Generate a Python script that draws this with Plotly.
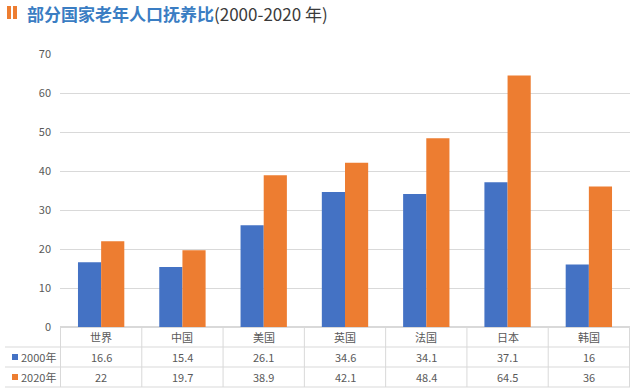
import plotly.graph_objects as go

categories = ["世界", "中国", "美国", "英国", "法国", "日本", "韩国"]
series_names = ["2000年", "2020年"]
values_2000 = [16.6, 15.4, 26.1, 34.6, 34.1, 37.1, 16]
values_2020 = [22, 19.7, 38.9, 42.1, 48.4, 64.5, 36]
y_ticks = [0, 10, 20, 30, 40, 50, 60, 70]

BLUE = "#4472C4"
ORANGE = "#ED7D31"
GRID = "#d9d9d9"
TXT = "#595959"
FONT = "Noto Sans CJK SC"

fig = go.Figure()
fig.add_trace(go.Bar(x=categories, y=values_2000, name=series_names[0], marker=dict(color=BLUE, line=dict(width=0))))
fig.add_trace(go.Bar(x=categories, y=values_2020, name=series_names[1], marker=dict(color=ORANGE, line=dict(width=0))))

W, H = 641, 392
L, R, T, B = 60, 11, 54, 65
ph = H - T - B
pw = W - L - R

def py(pix):
    return (H - B - pix) / ph

def px(pix):
    return (pix - L) / pw

annotations = []
shapes = []
row_centers = [337, 357, 377]
row_lines = [347, 367, 387]

# category row and value rows
for i, c in enumerate(categories):
    annotations.append(dict(x=c, y=py(row_centers[0]), xref="x", yref="paper", text=c, showarrow=False,
                            yanchor="middle", xanchor="center",
                            font=dict(size=11, color=TXT, family=FONT)))
    for r, vals in enumerate([values_2000, values_2020]):
        annotations.append(dict(x=c, y=py(row_centers[r + 1]), xref="x", yref="paper", text=str(vals[i]), showarrow=False,
                                yanchor="middle", xanchor="center",
                                font=dict(size=11, color=TXT, family=FONT)))

# vertical table lines
for i in range(len(categories) + 1):
    shapes.append(dict(type="line", xref="x", yref="paper", x0=i - 0.5, x1=i - 0.5,
                       y0=py(327), y1=py(387), line=dict(color=GRID, width=1)))
# horizontal table lines
for yl in row_lines:
    shapes.append(dict(type="line", xref="paper", yref="paper", x0=px(5), x1=1,
                       y0=py(yl), y1=py(yl), line=dict(color=GRID, width=1)))

# legend keys in table
for r, (name, col) in enumerate(zip(series_names, [BLUE, ORANGE])):
    yc = row_centers[r + 1]
    shapes.append(dict(type="rect", xref="paper", yref="paper", x0=px(12), x1=px(18),
                       y0=py(yc + 3), y1=py(yc - 3), fillcolor=col, line=dict(width=0)))
    annotations.append(dict(x=px(19), y=py(yc), xref="paper", yref="paper", text=name, showarrow=False,
                            xanchor="left", yanchor="middle", font=dict(size=11, color=TXT, family=FONT)))

# title icon
shapes.append(dict(type="rect", xref="paper", yref="paper", x0=px(7), x1=px(11), y0=py(19), y1=py(6),
                   fillcolor=ORANGE, line=dict(width=0)))
shapes.append(dict(type="rect", xref="paper", yref="paper", x0=px(13), x1=px(17), y0=py(19), y1=py(6),
                   fillcolor=ORANGE, line=dict(width=0)))
annotations.append(dict(x=px(25), y=py(13), xref="paper", yref="paper", xanchor="left", yanchor="middle", showarrow=False,
                        text="<b><span style='color:#3a7dc3'>部分国家老年人口抚养比</span></b><span style='color:#3a3a3a'>(2000-2020 年)</span>",
                        font=dict(size=17, family=FONT)))

fig.update_layout(
    width=W, height=H,
    margin=dict(l=L, r=R, t=T, b=B),
    paper_bgcolor="white", plot_bgcolor="white",
    showlegend=False,
    barmode="group", bargap=0.43, bargroupgap=0,
    font=dict(family=FONT, color=TXT, size=11),
    xaxis=dict(showticklabels=False, showgrid=False, zeroline=False, showline=False, ticks=""),
    yaxis=dict(range=[0, 70], tickvals=y_ticks, showgrid=True, gridcolor=GRID, gridwidth=1,
               zeroline=True, zerolinecolor=GRID, showline=False, ticks="", ticklabelstandoff=8,
               automargin=False, tickfont=dict(size=11, color=TXT, family=FONT)),
    annotations=annotations,
    shapes=shapes,
)

fig.write_html("out.html", config={"displayModeBar": False}, post_script="document.body.style.margin='0';")
